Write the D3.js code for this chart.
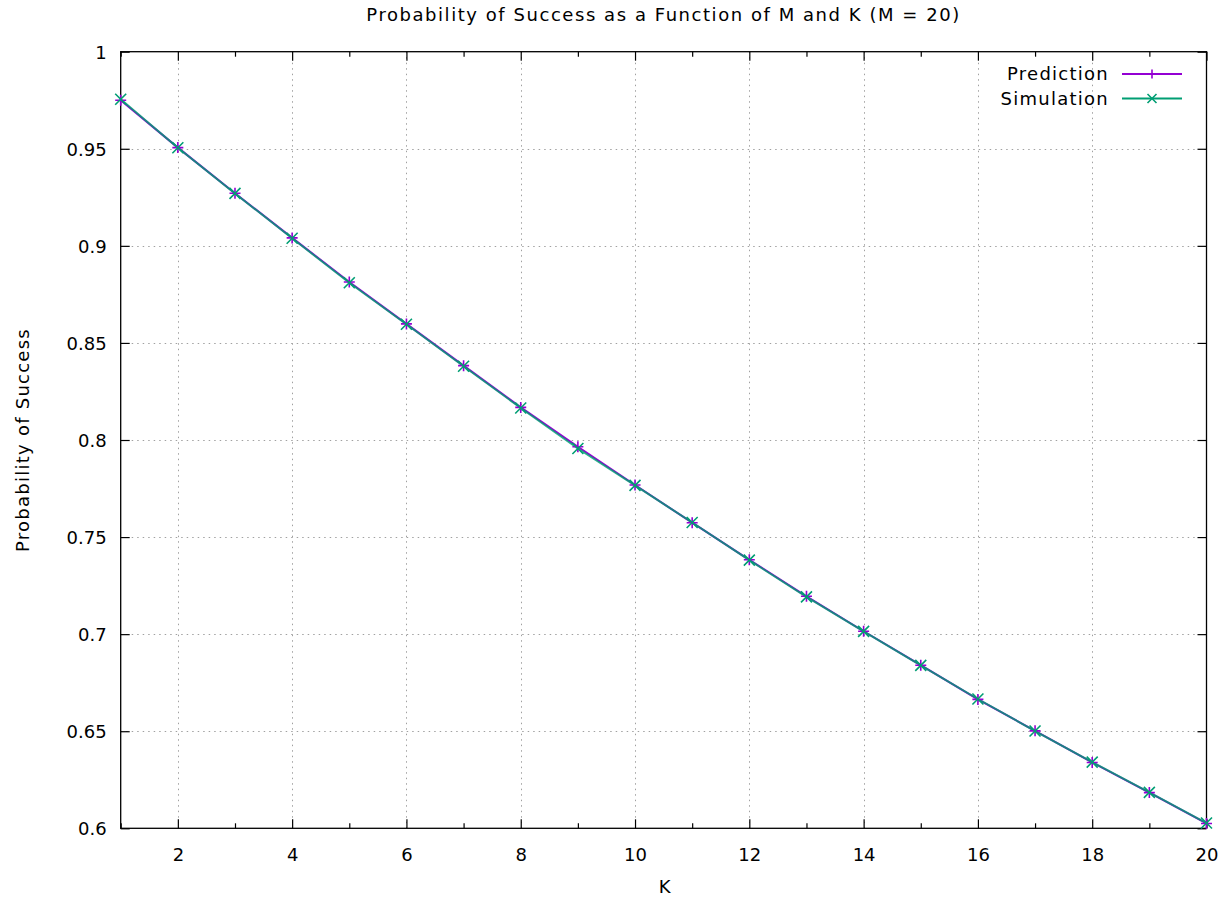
<!DOCTYPE html>
<html>
<head>
<meta charset="utf-8">
<script src="https://cdn.jsdelivr.net/npm/d3@7"></script>
<style>
  html, body { margin: 0; padding: 0; background: #fff; }
  svg { display: block; }
  text { font-family: "DejaVu Sans", Verdana, sans-serif; fill: #000; }
</style>
</head>
<body>
<svg id="chart" width="1229" height="900"></svg>
<script>
// ---- data ----
const kValues = [1,2,3,4,5,6,7,8,9,10,11,12,13,14,15,16,17,18,19,20];
const prediction = [0.9750,0.9506,0.9271,0.9041,0.8814,0.8598,0.8383,0.8168,0.7965,0.7768,
                    0.7574,0.7383,0.7195,0.7015,0.6840,0.6664,0.6502,0.6339,0.6184,0.6025];
const simulation = [0.9755,0.9505,0.9270,0.9039,0.8810,0.8596,0.8380,0.8165,0.7956,0.7766,
                    0.7575,0.7381,0.7192,0.7014,0.6839,0.6666,0.6501,0.6341,0.6185,0.6027];
const xMajorTicks = [2,4,6,8,10,12,14,16,18,20];
const xMinorTicks = [1,3,5,7,9,11,13,15,17,19];
const yTicks = [0.6,0.65,0.7,0.75,0.8,0.85,0.9,0.95,1];
const yTickLabels = ["0.6","0.65","0.7","0.75","0.8","0.85","0.9","0.95","1"];
const seriesNames = ["Prediction","Simulation"];
const seriesColors = ["#9400d3","#009e73"];
const titleText = "Probability of Success as a Function of M and K (M = 20)";
const xLabel = "K";
const yLabel = "Probability of Success";

// ---- layout ----
const L = 120.7, R = 1206.5, T = 51.7, B = 828.3;
const svg = d3.select("#chart");
const x = d3.scaleLinear().domain([1,20]).range([L,R]);
const y = d3.scaleLinear().domain([0.6,1]).range([B,T]);
const FS = 18, LS = "1.25px";

// grid
const grid = svg.append("g").attr("stroke","#a0a0a0").attr("stroke-width",1)
  .attr("stroke-dasharray","1.5,4");
grid.selectAll(".gx").data(xMajorTicks.filter(d => d < 20)).join("line")
  .attr("x1", d => Math.round(x(d))+0.5).attr("x2", d => Math.round(x(d))+0.5)
  .attr("y1", T).attr("y2", B);
grid.selectAll(".gy").data(yTicks.filter(d => d > 0.6 && d < 1)).join("line")
  .attr("y1", d => Math.round(y(d))+0.5).attr("y2", d => Math.round(y(d))+0.5)
  .attr("x1", L).attr("x2", R);

// axes via d3 axis (ticks on all four sides, inward)
function styleAxis(g){
  g.select(".domain").remove();
  g.selectAll(".tick line").attr("stroke","#000").attr("stroke-width",1.2);
}
svg.append("g").attr("transform",`translate(0,${B})`)
  .call(d3.axisBottom(x).tickValues(xMajorTicks).tickSizeInner(-9).tickSizeOuter(0).tickFormat(d => d))
  .call(styleAxis)
  .call(g => g.selectAll(".tick text").attr("y", 33).attr("dy",0)
    .style("font-size", FS+"px").attr("fill","#000").attr("font-family","DejaVu Sans"));
svg.append("g").attr("transform",`translate(0,${B})`)
  .call(d3.axisBottom(x).tickValues(xMinorTicks).tickSizeInner(-5).tickSizeOuter(0).tickFormat(""))
  .call(styleAxis);
svg.append("g").attr("transform",`translate(0,${T})`)
  .call(d3.axisTop(x).tickValues(xMajorTicks).tickSizeInner(-9).tickSizeOuter(0).tickFormat(""))
  .call(styleAxis);
svg.append("g").attr("transform",`translate(0,${T})`)
  .call(d3.axisTop(x).tickValues(xMinorTicks).tickSizeInner(-5).tickSizeOuter(0).tickFormat(""))
  .call(styleAxis);
svg.append("g").attr("transform",`translate(${L},0)`)
  .call(d3.axisLeft(y).tickValues(yTicks).tickSizeInner(-9).tickSizeOuter(0)
    .tickFormat((d,i) => yTickLabels[i]))
  .call(styleAxis)
  .call(g => g.selectAll(".tick text").attr("x", -14).attr("dy","0.36em")
    .style("font-size", FS+"px").attr("fill","#000").attr("font-family","DejaVu Sans"));
svg.append("g").attr("transform",`translate(${R},0)`)
  .call(d3.axisRight(y).tickValues(yTicks).tickSizeInner(-9).tickSizeOuter(0).tickFormat(""))
  .call(styleAxis);

// border
svg.append("rect").attr("x",L).attr("y",T).attr("width",R-L).attr("height",B-T)
  .attr("fill","none").attr("stroke","#000").attr("stroke-width",1.3);

// series
const allSeries = [prediction, simulation];
const line = d3.line().x((d,i) => x(kValues[i])).y(d => y(d));
const MS = 5.5;
function plusPath(cx, cy, s){ return `M${cx-s},${cy}H${cx+s}M${cx},${cy-s}V${cy+s}`; }
function crossPath(cx, cy, s){ return `M${cx-s},${cy-s}L${cx+s},${cy+s}M${cx-s},${cy+s}L${cx+s},${cy-s}`; }
const markerFns = [plusPath, crossPath];

allSeries.forEach((vals, si) => {
  svg.append("path").datum(vals).attr("d", line)
    .attr("fill","none").attr("stroke", seriesColors[si]).attr("stroke-width", 2)
    .attr("stroke-opacity", si === 1 ? 0.82 : 1);
});
allSeries.forEach((vals, si) => {
  svg.append("g").selectAll("path").data(vals).join("path")
    .attr("d", (d,i) => markerFns[si](x(kValues[i]), y(d), MS))
    .attr("fill","none").attr("stroke", seriesColors[si]).attr("stroke-width", 1.6);
});

// legend
const legendY = [74, 98.5];
seriesNames.forEach((name, si) => {
  const ly = legendY[si];
  svg.append("text").attr("x",1109).attr("y",ly).attr("dy","0.36em")
    .attr("text-anchor","end").style("font-size",FS+"px").style("letter-spacing",LS).text(name);
  svg.append("line").attr("x1",1122).attr("x2",1182).attr("y1",ly).attr("y2",ly)
    .attr("stroke",seriesColors[si]).attr("stroke-width",2);
  svg.append("path").attr("d", markerFns[si](1152, ly, MS-1))
    .attr("fill","none").attr("stroke",seriesColors[si]).attr("stroke-width",1.6);
});

// titles
svg.append("text").attr("x",(L+R)/2).attr("y",20.7).attr("text-anchor","middle")
  .style("font-size",FS+"px").style("letter-spacing","1.55px").text(titleText);
svg.append("text").attr("x",(L+R)/2+1).attr("y",893).attr("text-anchor","middle")
  .style("font-size",FS+"px").text(xLabel);
svg.append("text").attr("transform",`translate(29,${(T+B)/2}) rotate(-90)`)
  .attr("text-anchor","middle").style("font-size",FS+"px").style("letter-spacing",LS).text(yLabel);
</script>
</body>
</html>
